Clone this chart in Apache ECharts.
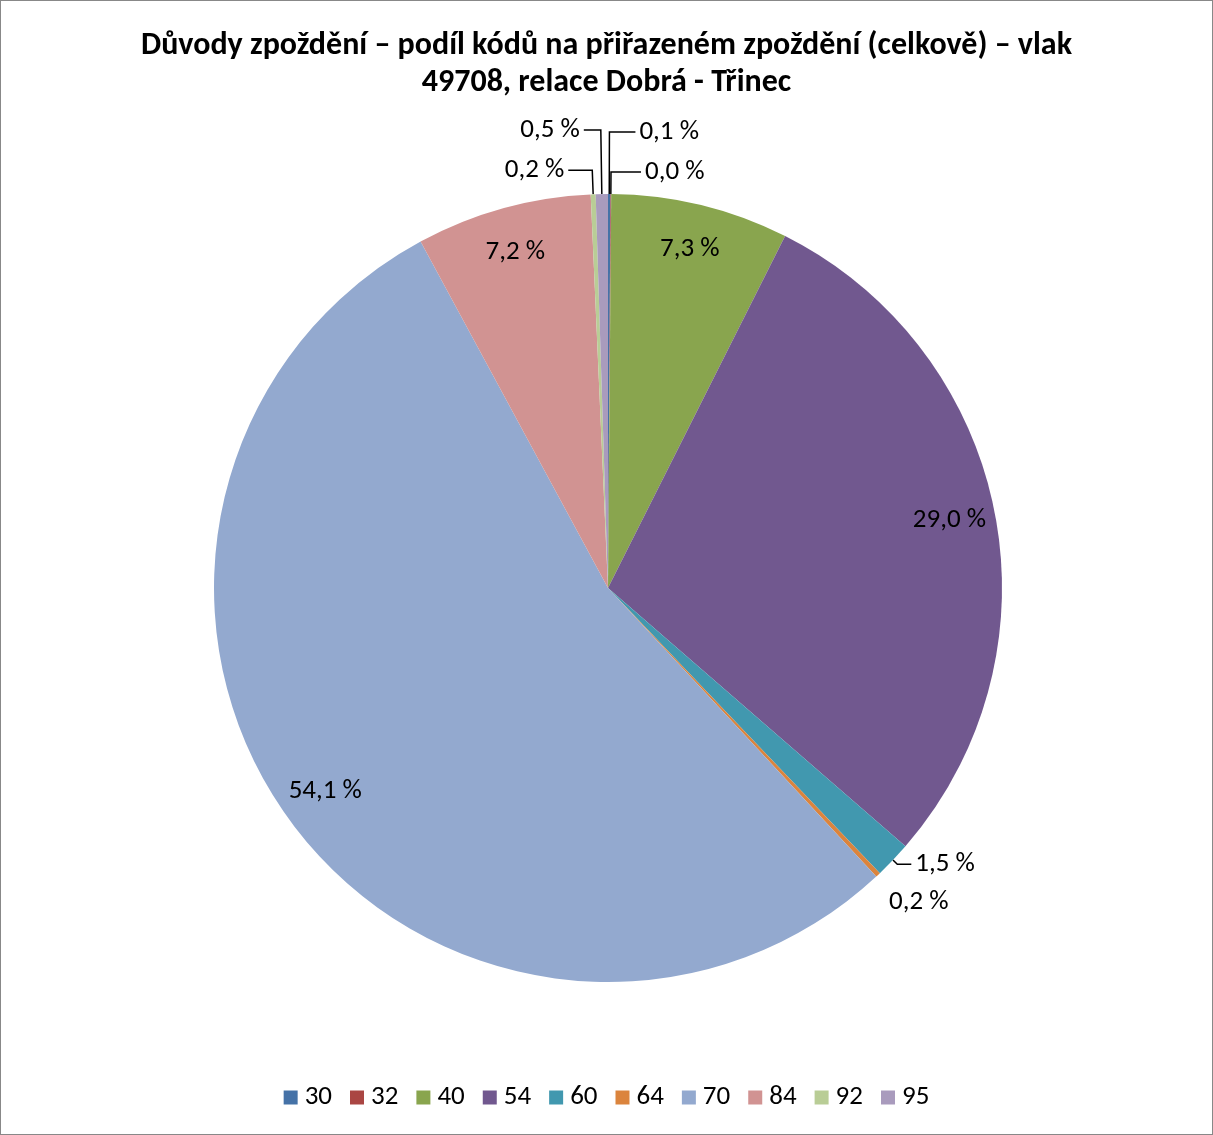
<!DOCTYPE html>
<html><head><meta charset="utf-8">
<script src="https://cdn.jsdelivr.net/npm/echarts@6/dist/echarts.min.js"></script>
<style>
html,body{margin:0;padding:0;background:#fff;}
#c{width:1211px;height:1133px;border:1px solid #888;}
</style></head>
<body><div id="c"></div>
<script>
const categories = ['30','32','40','54','60','64','70','84','92','95'];
const shares = [0.1, 0.03, 7.3, 29.0, 1.5, 0.2, 54.1, 7.2, 0.2, 0.5];
const colors = ['#4572A7','#AA4643','#89A54E','#71588F','#4198AF','#DB843D','#93A9CF','#D19392','#B9CD96','#A99BBD'];
const titleText = 'Důvody zpoždění – podíl kódů na přiřazeném zpoždění (celkově) – vlak\n49708, relace Dobrá - Třinec';

const FONT = "Carlito, 'Liberation Sans Narrow', 'Open Sans', sans-serif";
const fmt = v => v.toFixed(1).replace('.', ',') + ' %';

// outside label line settings for small slices: [length, length2, showLine]
const outsideCfg = {
  '30': [62, 26, true],
  '32': [22, 30, true],
  '60': [6, 14, true],
  '64': [38, -19, false],
  '92': [24, 24, true],
  '95': [64, 17, true]
};

const mainData = categories.map((c, i) => {
  const cfg = outsideCfg[c];
  const item = { name: c, value: shares[i], itemStyle: { color: colors[i] } };
  if (cfg) {
    item.label = { show: true, position: 'outside' };
    item.labelLine = { show: cfg[2], length: cfg[0], length2: cfg[1] };
  } else {
    item.label = { show: false };
    item.labelLine = { show: false };
  }
  return item;
});

const overlayData = categories.map((c, i) => ({
  name: c, value: shares[i],
  label: { show: !outsideCfg[c] }
}));

const chart = echarts.init(document.getElementById('c'));
chart.setOption({
  animation: false,
  color: colors,
  title: {
    text: titleText, left: 'center', top: 21,
    textStyle: { fontFamily: FONT, fontWeight: 'bold', fontSize: 32, lineHeight: 37, color: '#000' }
  },
  legend: {
    bottom: 18, left: 'center', itemWidth: 14, itemHeight: 14, itemGap: 18,
    icon: 'rect', data: categories,
    textStyle: { fontFamily: FONT, fontSize: 27, color: '#000', padding: [0,0,0,2] }
  },
  series: [{
    type: 'pie', name: 'main', center: [607, 587], radius: [0, 394],
    startAngle: 90, clockwise: true, avoidLabelOverlap: false,
    label: { fontFamily: FONT, fontSize: 27, color: '#000', formatter: p => fmt(p.value), distanceToLabelLine: 4 },
    labelLine: { lineStyle: { color: '#000', width: 1.5 }, smooth: false },
    itemStyle: { borderWidth: 0 },
    emphasis: { disabled: true },
    data: mainData
  }, {
    type: 'pie', name: 'labels', center: [607, 587], radius: [296, 394],
    startAngle: 90, clockwise: true, silent: true,
    itemStyle: { color: 'rgba(0,0,0,0)' },
    label: { position: 'inside', fontFamily: FONT, fontSize: 27, color: '#000', formatter: p => fmt(p.value) },
    labelLine: { show: false },
    emphasis: { disabled: true },
    data: overlayData
  }]
});
</script></body></html>
